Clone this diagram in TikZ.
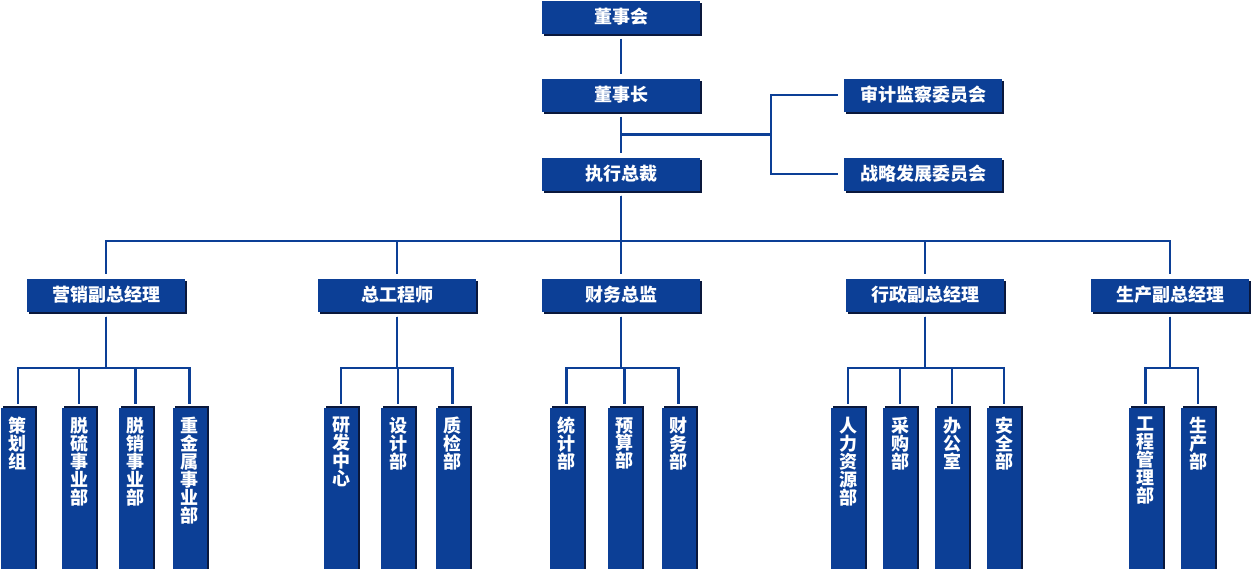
\documentclass[tikz,border=0pt]{standalone}
\usepackage{fontspec}
\setmainfont{Noto Sans CJK SC}
\usetikzlibrary{shadows,calc}
\definecolor{orgblue}{RGB}{12,63,150}
\definecolor{orgshade}{RGB}{10,24,60}

\begin{document}
\begin{tikzpicture}[
    x=1pt, y=1pt,
    block/.style={rectangle, fill=orgblue, text=white, inner sep=0pt,
                  minimum width=158pt, minimum height=33pt,
                  font=\fontsize{18}{18}\selectfont\bfseries,
                  general shadow={fill=orgshade, shadow xshift=2pt, shadow yshift=-2pt}},
    dept/.style={rectangle, fill=orgblue, inner sep=0pt, anchor=north,
                 minimum width=34pt, minimum height=165pt,
                 general shadow={fill=orgshade, shadow xshift=2pt, shadow yshift=2pt},
                 label={[anchor=north, yshift=-9pt, inner sep=0pt, text=white, align=center,
                         font=\fontsize{18}{17.9}\selectfont\bfseries]north:#1}},
    line/.style={draw, orgblue, line width=2.3pt, shorten <=5pt, shorten >=4pt}
]
    \useasboundingbox (0,0) rectangle (1252,-568);

    % top of the chart
    \node [block] (board) at (621,-17)  {董事会};
    \node [block] (chair) at (621,-95)  {董事长};
    \node [block] (ceo)   at (621,-174) {执行总裁};
    \node [block] (audit) at (923,-95)  {审计监察委员会};
    \node [block] (strat) at (923,-174) {战略发展委员会};

    % second level
    \node [block] (mkt)   at (106,-295)  {营销副总经理};
    \node [block] (eng)   at (397,-295)  {总工程师};
    \node [block] (cfo)   at (621,-295)  {财务总监};
    \node [block] (admin) at (925,-295)  {行政副总经理};
    \node [block] (prod)  at (1170,-295) {生产副总经理};

    % departments
    \node [dept={策\\划\\组}]               (plan)   at (18,-408)  {};
    \node [dept={脱\\硫\\事\\业\\部}]       (desulf) at (79,-408)  {};
    \node [dept={脱\\销\\事\\业\\部}]       (denit)  at (135.5,-408) {};
    \node [dept={重\\金\\属\\事\\业\\部}]   (metal)  at (189.5,-408) {};
    \node [dept={研\\发\\中\\心}]           (rnd)    at (341,-408) {};
    \node [dept={设\\计\\部}]               (design) at (398,-408) {};
    \node [dept={质\\检\\部}]               (qc)     at (452.5,-408) {};
    \node [dept={统\\计\\部}]               (stat)   at (566.5,-408) {};
    \node [dept={预\\算\\部}]               (budget) at (624.5,-408) {};
    \node [dept={财\\务\\部}]               (fin)    at (678.5,-408) {};
    \node [dept={人\\力\\资\\源\\部}]       (hr)     at (848,-408) {};
    \node [dept={采\\购\\部}]               (purch)  at (900,-408) {};
    \node [dept={办\\公\\室}]               (office) at (952,-408) {};
    \node [dept={安\\全\\部}]               (safety) at (1004,-408) {};
    \node [dept={工\\程\\管\\理\\部}]       (works)  at (1145.5,-408) {};
    \node [dept={生\\产\\部}]               (make)   at (1198,-408) {};

    \path [line] (board) -- (chair);
    \path [line] (chair) -- (ceo);

    \coordinate (jn) at ($(chair.south)!0.5!(ceo.north)$);
    \path [line, shorten <=0pt, shorten >=6pt] (jn) -- ++(150,0) |- (audit.west);
    \path [line, shorten <=0pt, shorten >=6pt] (jn) -- ++(150,0) |- (strat.west);

    \foreach \n in {mkt,eng,cfo,admin,prod}
        \path [line] (ceo.south) -- ++(0,-50) -| (\n.north);

    \foreach \p/\c in {mkt/plan, mkt/desulf, mkt/denit, mkt/metal,
                       eng/rnd, eng/design, eng/qc,
                       cfo/stat, cfo/budget, cfo/fin,
                       admin/hr, admin/purch, admin/office, admin/safety,
                       prod/works, prod/make}
        \path [line] (\p.south) -- ++(0,-56) -| (\c.north);
\end{tikzpicture}
\end{document}
